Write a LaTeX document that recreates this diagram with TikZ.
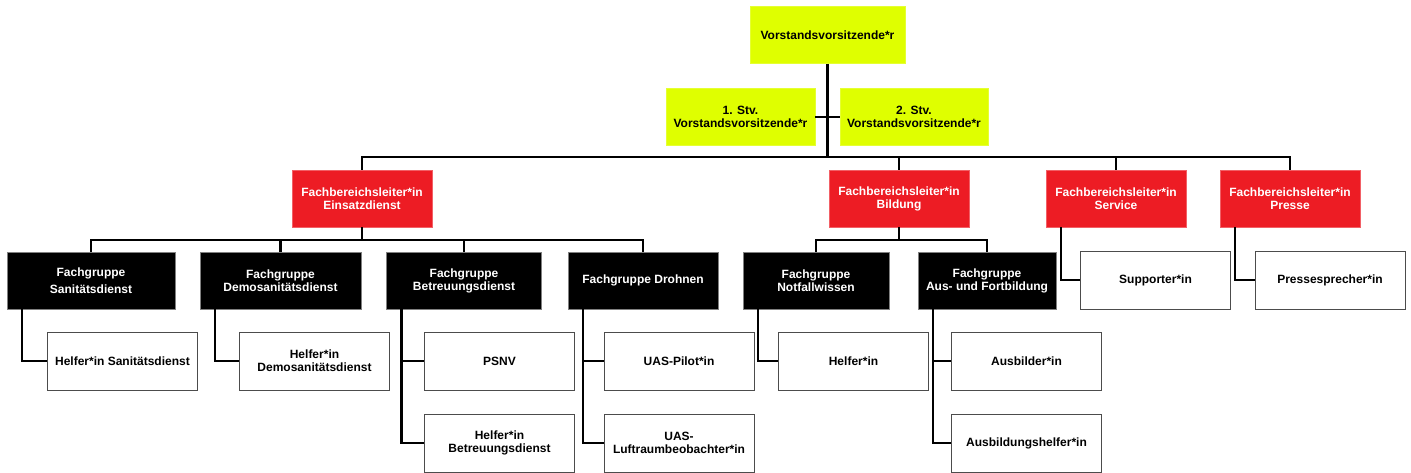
\documentclass[tikz,border=0pt]{standalone}
\usepackage{fontspec}
\setmainfont{Liberation Sans}
\definecolor{lime}{HTML}{DFFF00}
\definecolor{signalred}{HTML}{ED1C24}

\begin{document}
\begin{tikzpicture}[x=1pt,y=-1pt,
  box/.style={rectangle,align=center,inner sep=0pt,font=\bfseries\fontsize{12}{13}\selectfont},
  board/.style={box,fill=lime,draw=lime!80!white,minimum height=57pt},
  head/.style={box,fill=signalred,draw=signalred!70!white,text=white,minimum width=140pt,minimum height=57pt},
  group/.style={box,fill=black,draw=gray,text=white,minimum height=57pt},
  role/.style={box,fill=white,draw=black!70,minimum width=150pt,minimum height=58pt},
  link/.style={line width=2.5pt}]
\path[fill=white] (0,0) rectangle (1411,473);

\node [board,minimum width=155pt] (vorstand) at (827.5,35) {Vorstandsvorsitzende*r};
\node [board,minimum width=149pt] (stvA) at (740.5,117) {1. Stv.\\Vorstandsvorsitzende*r};
\node [board,minimum width=148pt] (stvB) at (914,117) {2. Stv.\\Vorstandsvorsitzende*r};

\node [head] (einsatz) at (362,198.5) {Fachbereichsleiter*in\\Einsatzdienst};
\node [head] (bildung) at (899,198.5) {Fachbereichsleiter*in\\Bildung};
\node [head] (service) at (1116,198.5) {Fachbereichsleiter*in\\Service};
\node [head] (presse) at (1290,198.5) {Fachbereichsleiter*in\\Presse};

\node [group,minimum width=168pt] (sani) at (91,280.5) {Fachgruppe\\[4pt]Sanitätsdienst};
\node [group,minimum width=161pt] (demo) at (280.5,280.5) {Fachgruppe\\Demosanitätsdienst};
\node [group,minimum width=155pt] (betr) at (464,280.5) {Fachgruppe\\Betreuungsdienst};
\node [group,minimum width=150pt] (drohnen) at (643,280.5) {Fachgruppe Drohnen};
\node [group,minimum width=146pt] (notfall) at (816,280.5) {Fachgruppe\\Notfallwissen};
\node [group,minimum width=138pt] (ausfort) at (987,280.5) {Fachgruppe\\Aus- und Fortbildung};

\node [role] (helsani) at (122.5,361) {Helfer*in Sanitätsdienst};
\node [role] (heldemo) at (314.5,361) {Helfer*in\\Demosanitätsdienst};
\node [role] (psnv) at (499.5,361) {PSNV};
\node [role] (helbetr) at (499.5,443) {Helfer*in\\Betreuungsdienst};
\node [role] (pilot) at (679,361) {UAS-Pilot*in};
\node [role] (luftraum) at (679,443) {UAS-\\Luftraumbeobachter*in};
\node [role] (helfer) at (853.5,361) {Helfer*in};
\node [role] (ausbilder) at (1026.5,361) {Ausbilder*in};
\node [role] (aushelfer) at (1026.5,443) {Ausbildungshelfer*in};
\node [role] (supporter) at (1155.5,280) {Supporter*in};
\node [role] (sprecher) at (1330,280) {Pressesprecher*in};

\coordinate (hub) at (827.5,157);
\coordinate (ebar) at (362,240);
\coordinate (bbar) at (899,240);

\draw [link] (vorstand) -- (hub);
\draw [link] (stvA) -- (stvB);
\draw [link] (einsatz.north) |- (hub) -| (presse.north);
\draw [link] (bildung.north) -- (bildung.north |- hub);
\draw [link] (service.north) -- (service.north |- hub);
\draw [link] (einsatz) -- (ebar);
\draw [link] (sani.north) |- (ebar) -| (drohnen.north);
\draw [link] (demo.north) -- (demo.north |- ebar);
\draw [link] (betr.north) -- (betr.north |- ebar);
\draw [link] (bildung) -- (bbar);
\draw [link] (notfall.north) |- (bbar) -| (ausfort.north);
\foreach \grp/\sub in {sani/helsani,demo/heldemo,betr/psnv,betr/helbetr,drohnen/pilot,drohnen/luftraum,
  notfall/helfer,ausfort/ausbilder,ausfort/aushelfer,service/supporter,presse/sprecher}
  \draw [link] ([xshift=15pt]\grp.south west) |- (\sub.west);
\end{tikzpicture}
\end{document}
